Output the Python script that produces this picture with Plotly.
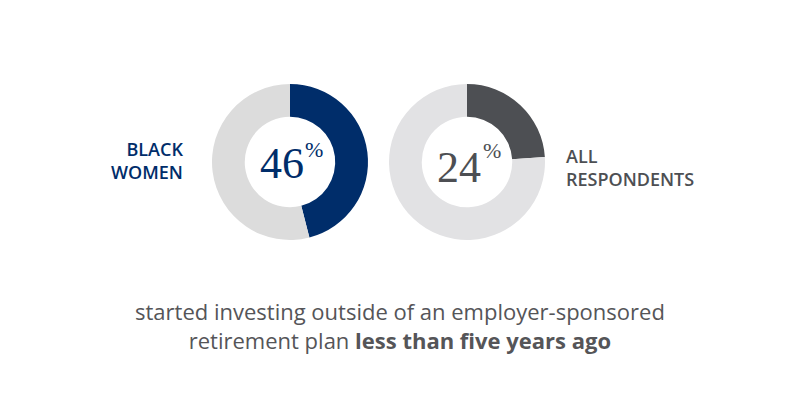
import plotly.graph_objects as go

groups = ["BLACK<br>WOMEN", "ALL<br>RESPONDENTS"]
shares = [46, 24]
pct_labels = ["46", "24"]
caption_plain = "started investing outside of an employer-sponsored<br>retirement plan "
caption_bold = "less than five years ago"

W, H = 800, 400
def px(x):
    return x / W
def py(y):
    return 1 - y / H

navy = "#002D6A"
dark = "#4D4F53"
light_left = "#DCDCDC"
light_right = "#E2E2E4"

fig = go.Figure()
specs = [
    dict(cx=290, color=navy, rest=light_left),
    dict(cx=467, color=dark, rest=light_right),
]
R = 78
CY = 162
for s, v, name in zip(specs, shares, groups):
    fig.add_trace(go.Pie(
        values=[v, 100 - v],
        labels=["yes", "no"],
        hole=0.58,
        sort=False,
        direction="clockwise",
        rotation=0,
        marker=dict(colors=[s["color"], s["rest"]], line=dict(color="white", width=0)),
        textinfo="none",
        hoverinfo="skip",
        showlegend=False,
        domain=dict(x=[px(s["cx"] - R), px(s["cx"] + R)], y=[py(CY + R), py(CY - R)]),
    ))

annotations = []
# big numbers
num_pos = [(282, 164, navy), (459, 168, dark)]
pct_pos = [(314, 149, navy), (492, 151, dark)]
for lab, (x, y, c), (x2, y2, c2) in zip(pct_labels, num_pos, pct_pos):
    annotations.append(dict(x=px(x), y=py(y), xref="paper", yref="paper", text=lab,
                            showarrow=False, xanchor="center", yanchor="middle",
                            font=dict(family="Liberation Serif", size=44, color=c)))
    annotations.append(dict(x=px(x2), y=py(y2), xref="paper", yref="paper", text="%",
                            showarrow=False, xanchor="center", yanchor="middle",
                            font=dict(family="Liberation Serif", size=22, color=c2)))
# group labels
annotations.append(dict(x=px(185), y=py(160), xref="paper", yref="paper", text=groups[0],
                        showarrow=False, xanchor="right", yanchor="middle", align="right",
                        font=dict(family="Open Sans", size=18, color=navy, weight=600)))
annotations.append(dict(x=px(564), y=py(167), xref="paper", yref="paper", text=groups[1],
                        showarrow=False, xanchor="left", yanchor="middle", align="left",
                        font=dict(family="Open Sans", size=18, color=dark, weight=600)))
# caption
annotations.append(dict(x=0.5, y=py(325), xref="paper", yref="paper",
                        text=caption_plain + "<b>" + caption_bold + "</b>",
                        showarrow=False, xanchor="center", yanchor="middle", align="center",
                        font=dict(family="Open Sans", size=22, color="#555558")))

fig.update_layout(
    width=W, height=H,
    margin=dict(l=0, r=0, t=0, b=0),
    paper_bgcolor="white", plot_bgcolor="white",
    annotations=annotations,
)
fig.write_html("out.html")
